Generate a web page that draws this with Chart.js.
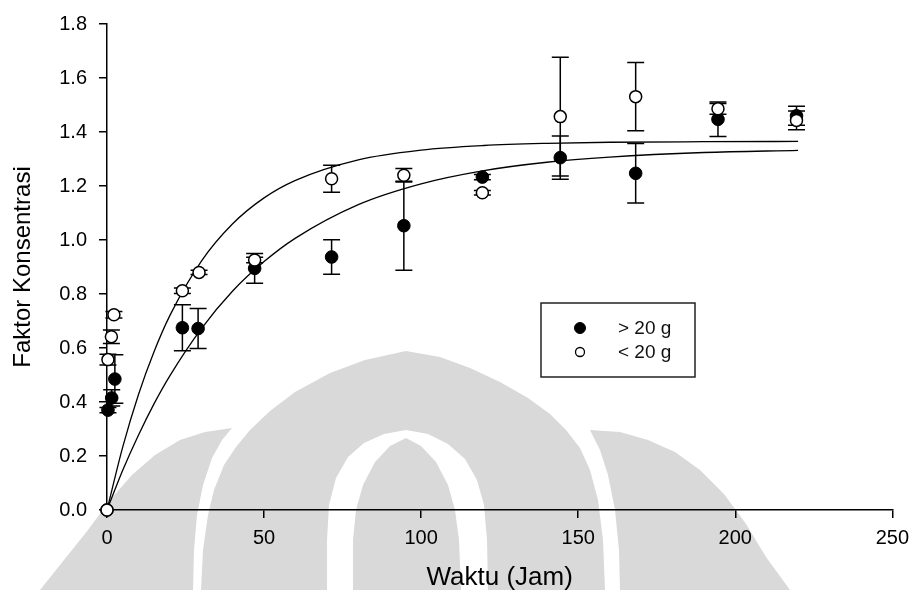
<!DOCTYPE html>
<html>
<head>
<meta charset="utf-8">
<title>Faktor Konsentrasi</title>
<script src="https://cdn.jsdelivr.net/npm/chart.js@4.4.1/dist/chart.umd.min.js"></script>
<style>
  html, body { margin: 0; padding: 0; background: #ffffff; }
  #wrap { width: 917px; height: 590px; position: relative; }
</style>
</head>
<body>
<div id="wrap"><canvas id="chart" width="917" height="590"></canvas></div>
<script>
// ---- data ----
const seriesLabels = ['> 20 g', '< 20 g'];
const xTitle = 'Waktu (Jam)';
const yTitle = 'Faktor Konsentrasi';
const xTicks = [0, 50, 100, 150, 200, 250];
const yTicks = [0, 0.2, 0.4, 0.6, 0.8, 1.0, 1.2, 1.4, 1.6, 1.8];

// > 20 g (filled markers): time, mean, error
const waktuBesar  = [0, 0.3, 1.5, 2.5, 24, 29, 47, 71.5, 94.5, 119.5, 144.3, 168.3, 194.5, 219.5];
const faktorBesar = [0, 0.37, 0.415, 0.485, 0.675, 0.672, 0.895, 0.937, 1.053, 1.233, 1.305, 1.247, 1.447, 1.46];
const errorBesar  = [0, 0.01, 0.03, 0.09, 0.085, 0.074, 0.055, 0.064, 0.165, 0.01, 0.08, 0.11, 0.064, 0.035];

// < 20 g (open markers): time, mean, error
const waktuKecil  = [0, 0.3, 1.4, 2.2, 24, 29.3, 47, 71.5, 94.5, 119.5, 144.3, 168.3, 194.5, 219.5];
const faktorKecil = [0, 0.557, 0.642, 0.723, 0.812, 0.88, 0.926, 1.227, 1.24, 1.175, 1.457, 1.531, 1.486, 1.443];
const errorKecil  = [0, 0.02, 0.025, 0.012, 0.01, 0.008, 0.01, 0.05, 0.025, 0.008, 0.22, 0.126, 0.02, 0.035];

// fitted curves
const waktuKurva = [0, 5, 10, 15, 20, 30, 40, 50, 60, 80, 100, 120, 140, 160, 190, 220];
const kurvaBesar = [0, 0.147, 0.277, 0.394, 0.497, 0.671, 0.811, 0.92, 1.007, 1.131, 1.208, 1.257, 1.288, 1.307, 1.324, 1.332];
const kurvaKecil = [0, 0.233, 0.427, 0.587, 0.72, 0.921, 1.06, 1.156, 1.221, 1.297, 1.333, 1.35, 1.358, 1.362, 1.364, 1.365];

const toPoints = (xs, ys) => xs.map((x, i) => ({ x: x, y: ys[i] }));

const FONT = "'Liberation Sans', Arial, Helvetica, sans-serif";
Chart.defaults.font.family = FONT;
Chart.defaults.color = '#000';

// faint emblem in the page background
const emblem = {
  id: 'emblem',
  beforeDraw(chart) {
    const ctx = chart.ctx;
    const poly = (pts, fill) => {
      ctx.beginPath();
      ctx.moveTo(pts[0][0], pts[0][1]);
      for (let i = 1; i < pts.length; i++) ctx.lineTo(pts[i][0], pts[i][1]);
      ctx.closePath();
      ctx.fillStyle = fill;
      ctx.fill();
    };
    const grey = '#d9d9d9';
    ctx.save();
    ctx.fillStyle = '#fff';
    ctx.fillRect(0, 0, chart.width, chart.height);
    // central dome
    poly([[201,590],[203,550],[208,515],[214,490],[224,465],[236,447],[250,430],[270,411],[295,392],
          [330,373],[365,360],[406,351],[440,357],[470,368],[500,382],[528,398],[550,414],[566,430],
          [580,448],[590,470],[598,500],[603,540],[605,590]], grey);
    // inner opening
    poly([[327,590],[327,540],[329,505],[336,478],[348,457],[364,443],[384,434],[406,430],[428,434],
          [448,444],[465,459],[477,480],[484,505],[487,540],[488,590]], '#fff');
    // centre flame
    poly([[353,590],[353,540],[356,510],[363,485],[375,462],[390,446],[406,438],[421,446],[436,462],
          [448,485],[455,510],[459,540],[461,590]], grey);
    // left wing
    poly([[193,590],[194,550],[197,515],[203,485],[212,458],[222,440],[232,428],[205,432],[180,440],
          [155,455],[132,475],[110,500],[88,530],[64,560],[40,590]], grey);
    // right wing
    poly([[620,590],[619,550],[615,510],[608,475],[600,450],[590,430],[620,432],[648,440],[675,452],
          [700,470],[724,494],[746,524],[766,557],[790,590]], grey);
    ctx.restore();
  }
};

// vertical error bars with caps, drawn beneath the markers
const errorBars = {
  id: 'errorBars',
  beforeDatasetsDraw(chart) {
    const ctx = chart.ctx;
    const xs = chart.scales.x, ys = chart.scales.y;
    ctx.save();
    ctx.strokeStyle = '#000';
    ctx.lineWidth = 1.5;
    chart.data.datasets.forEach(ds => {
      if (!ds.errorBars) return;
      ds.data.forEach((p, i) => {
        const e = ds.errorBars[i];
        if (!e) return;
        const px = xs.getPixelForValue(p.x);
        const top = ys.getPixelForValue(p.y + e);
        const bot = ys.getPixelForValue(p.y - e);
        const half = 8.5;
        ctx.beginPath();
        ctx.moveTo(px, top); ctx.lineTo(px, bot);
        ctx.moveTo(px - half, top); ctx.lineTo(px + half, top);
        ctx.moveTo(px - half, bot); ctx.lineTo(px + half, bot);
        ctx.stroke();
      });
    });
    ctx.restore();
  }
};

// boxed legend inside the plot
const boxLegend = {
  id: 'boxLegend',
  afterDraw(chart) {
    const ctx = chart.ctx;
    const box = { x: 541, y: 303, w: 154, h: 74 };
    ctx.save();
    ctx.fillStyle = '#fff';
    ctx.fillRect(box.x, box.y, box.w, box.h);
    ctx.strokeStyle = '#222';
    ctx.lineWidth = 1.5;
    ctx.strokeRect(box.x, box.y, box.w, box.h);
    const rows = [
      { y: 328, fill: '#000', r: 5.5, lw: 1 },
      { y: 352, fill: '#fff', r: 4.5, lw: 1.3 }
    ];
    ctx.font = '19px ' + FONT;
    ctx.textBaseline = 'middle';
    ctx.textAlign = 'left';
    rows.forEach((row, i) => {
      ctx.beginPath();
      ctx.arc(580, row.y, row.r, 0, Math.PI * 2);
      ctx.fillStyle = row.fill;
      ctx.fill();
      ctx.lineWidth = row.lw;
      ctx.strokeStyle = '#000';
      ctx.stroke();
      ctx.fillStyle = '#111';
      ctx.fillText(seriesLabels[i], 618, row.y + 1);
    });
    ctx.restore();
  }
};

new Chart(document.getElementById('chart'), {
  type: 'scatter',
  data: {
    datasets: [
      {
        label: seriesLabels[1],
        data: toPoints(waktuKecil, faktorKecil),
        errorBars: errorKecil,
        pointRadius: 6,
        pointBackgroundColor: '#fff',
        pointBorderColor: '#000',
        pointBorderWidth: 1.5,
        showLine: false,
        clip: false,
        order: 0
      },
      {
        label: seriesLabels[0],
        data: toPoints(waktuBesar, faktorBesar),
        errorBars: errorBesar,
        pointRadius: 6.3,
        pointBackgroundColor: '#000',
        pointBorderColor: '#000',
        pointBorderWidth: 1,
        showLine: false,
        clip: false,
        order: 1
      },
      {
        label: 'fit ' + seriesLabels[1],
        data: toPoints(waktuKurva, kurvaKecil),
        showLine: true,
        pointRadius: 0,
        borderColor: '#000',
        borderWidth: 1.3,
        cubicInterpolationMode: 'monotone',
        clip: false,
        order: 2
      },
      {
        label: 'fit ' + seriesLabels[0],
        data: toPoints(waktuKurva, kurvaBesar),
        showLine: true,
        pointRadius: 0,
        borderColor: '#000',
        borderWidth: 1.3,
        cubicInterpolationMode: 'monotone',
        clip: false,
        order: 2
      }
    ]
  },
  options: {
    responsive: false,
    devicePixelRatio: 1,
    animation: false,
    events: [],
    layout: { padding: { left: 0, right: 19, top: 20, bottom: 0 } },
    plugins: {
      legend: { display: false },
      tooltip: { enabled: false }
    },
    scales: {
      x: {
        type: 'linear',
        min: 0, max: 250,
        afterBuildTicks: s => { s.ticks = xTicks.map(v => ({ value: v })); },
        afterFit: s => { s.height = 80; },
        ticks: { font: { size: 20 }, color: '#000', padding: 8, callback: v => String(v) },
        grid: { drawOnChartArea: false, drawTicks: true, tickLength: 8, color: '#000', lineWidth: 1.5 },
        border: { display: true, color: '#000', width: 1.5 },
        title: { display: true, text: xTitle, font: { size: 26 }, color: '#000', padding: { top: 0, bottom: -3 } }
      },
      y: {
        type: 'linear',
        min: 0, max: 1.8,
        afterBuildTicks: s => { s.ticks = yTicks.map(v => ({ value: v })); },
        afterFit: s => { s.width = 107; },
        ticks: { font: { size: 20 }, color: '#000', padding: 12, callback: v => Number(v).toFixed(1) },
        grid: { drawOnChartArea: false, drawTicks: true, tickLength: 8, color: '#000', lineWidth: 1.5 },
        border: { display: true, color: '#000', width: 1.5 },
        title: { display: true, text: yTitle, font: { size: 24 }, color: '#000', padding: { top: 9, bottom: 0 } }
      }
    }
  },
  plugins: [emblem, errorBars, boxLegend]
});
</script>
</body>
</html>
